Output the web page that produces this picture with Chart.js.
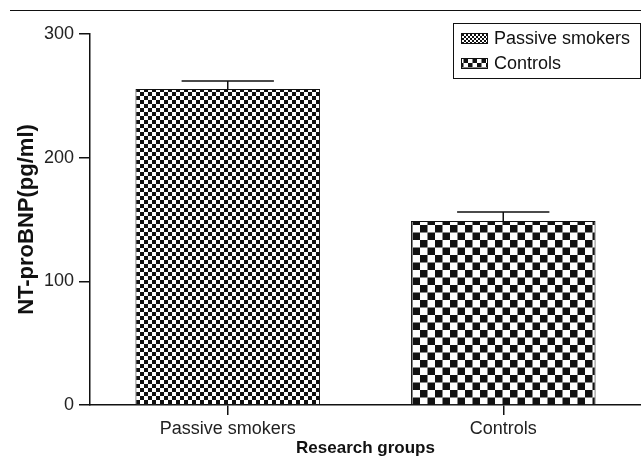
<!DOCTYPE html>
<html>
<head>
<meta charset="utf-8">
<script src="https://cdn.jsdelivr.net/npm/chart.js@4/dist/chart.umd.min.js"></script>
<style>
  html, body { margin: 0; padding: 0; background: #fff; }
  #wrap { width: 641px; height: 460px; }
</style>
</head>
<body>
<div id="wrap"><canvas id="c" width="641" height="460"></canvas></div>
<script>
const groups = ["Passive smokers", "Controls"];
const means = [255.5, 148.8];
const sem = [6.5, 7.2];
const yTicks = [0, 100, 200, 300];

function checker(cell) {
  const c = document.createElement("canvas");
  c.width = c.height = cell * 2;
  const g = c.getContext("2d");
  g.fillStyle = "#fff";
  g.fillRect(0, 0, cell * 2, cell * 2);
  g.fillStyle = "#111";
  g.fillRect(0, 0, cell, cell);
  g.fillRect(cell, cell, cell, cell);
  return document.getElementById("c").getContext("2d").createPattern(c, "repeat");
}

const barFills = [checker(4), checker(7.5)];
const keyFills = [checker(2), checker(4.5)];

const FONT = "'Liberation Sans', Arial, sans-serif";

const extras = {
  id: "extras",
  afterDatasetsDraw(chart) {
    const ctx = chart.ctx;
    const y = chart.scales.y;
    const meta = chart.getDatasetMeta(0);
    ctx.save();
    ctx.strokeStyle = "#111";
    ctx.lineWidth = 1.5;
    meta.data.forEach((bar, i) => {
      const half = bar.width / 4;
      const top = y.getPixelForValue(means[i] + sem[i]);
      const base = y.getPixelForValue(means[i]);
      ctx.beginPath();
      ctx.moveTo(bar.x, base);
      ctx.lineTo(bar.x, top);
      ctx.moveTo(bar.x - half, top);
      ctx.lineTo(bar.x + half, top);
      ctx.stroke();
    });
    ctx.restore();
  },
  afterDraw(chart) {
    const ctx = chart.ctx;
    ctx.save();
    // rule across the top
    ctx.strokeStyle = "#111";
    ctx.lineWidth = 1.2;
    ctx.beginPath();
    ctx.moveTo(10, 10.5);
    ctx.lineTo(641, 10.5);
    ctx.stroke();
    // legend
    ctx.lineWidth = 1;
    ctx.strokeRect(453.5, 23.5, 187, 55);
    ctx.font = "18px " + FONT;
    ctx.textBaseline = "middle";
    ctx.fillStyle = "#111";
    groups.forEach((g, i) => {
      const cy = 38 + i * 25;
      ctx.fillStyle = keyFills[i];
      ctx.fillRect(461, cy - 5, 27, 11);
      ctx.strokeRect(461.5, cy - 4.5, 26, 10);
      ctx.fillStyle = "#111";
      ctx.fillText(g, 494, cy + 1);
    });
    ctx.restore();
  }
};

new Chart(document.getElementById("c"), {
  type: "bar",
  data: {
    labels: groups,
    datasets: [{
      data: means,
      backgroundColor: barFills,
      borderColor: "#111",
      borderWidth: 1,
      barPercentage: 0.67,
      categoryPercentage: 1
    }]
  },
  options: {
    responsive: false,
    animation: false,
    layout: { padding: { top: 34, right: 0, left: 0, bottom: 0 } },
    plugins: { legend: { display: false }, tooltip: { enabled: false } },
    scales: {
      x: {
        offset: true,
        grid: { display: true, offset: false, drawOnChartArea: false, drawTicks: true, tickLength: 10, color: "#111", lineWidth: 1.5 },
        border: { display: true, color: "#111", width: 1.5 },
        ticks: { color: "#222", font: { family: FONT, size: 18 }, padding: 3 },
        title: { display: true, text: "Research groups", color: "#111", font: { family: FONT, size: 17, weight: "bold" }, padding: { top: 0, bottom: 1 } },
        afterFit(s) { s.height = 55; }
      },
      y: {
        min: 0,
        max: 300,
        afterBuildTicks(s) { s.ticks = yTicks.map(v => ({ value: v })); },
        grid: { display: true, drawOnChartArea: false, drawTicks: true, tickLength: 11, color: "#111", lineWidth: 1.5 },
        border: { display: true, color: "#111", width: 1.5 },
        ticks: { color: "#222", font: { family: FONT, size: 18 }, padding: 5 },
        title: { display: true, text: "NT-proBNP(pg/ml)", color: "#111", font: { family: FONT, size: 22, weight: "bold" }, padding: { top: 14, bottom: 0 } },
        afterFit(s) { s.width = 90; }
      }
    }
  },
  plugins: [extras]
});
</script>
</body>
</html>
